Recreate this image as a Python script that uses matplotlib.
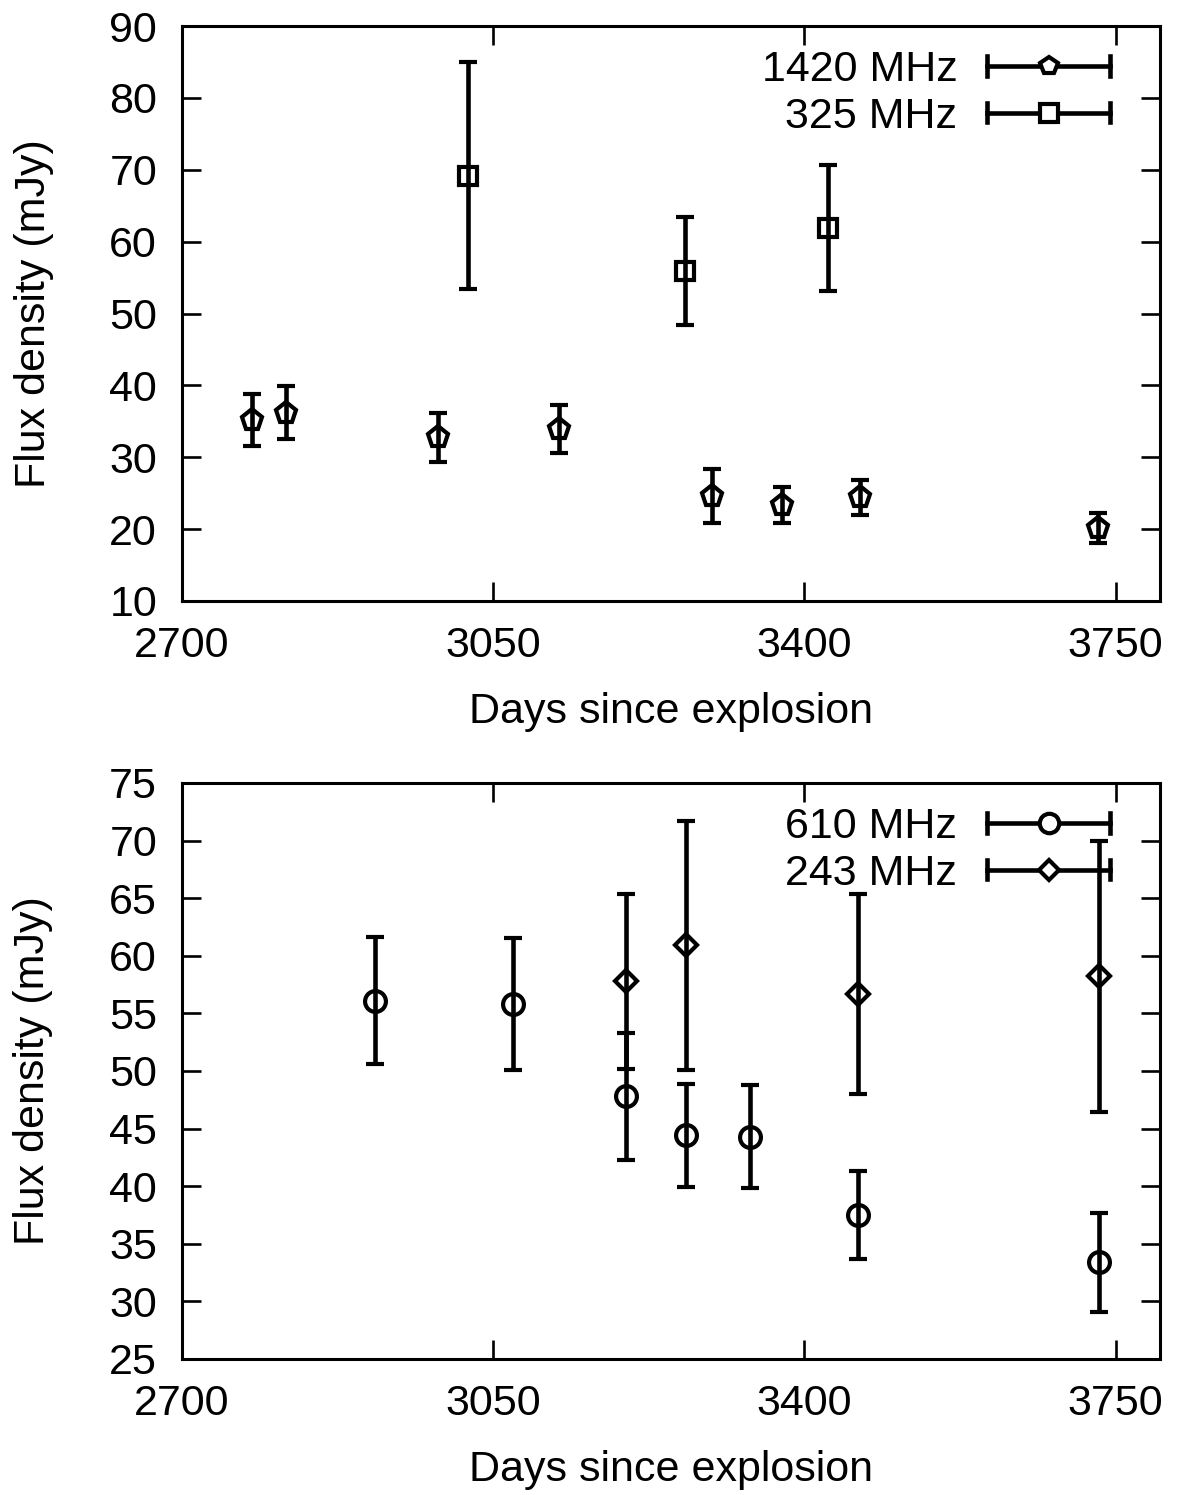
import matplotlib
matplotlib.use("Agg")
import matplotlib.pyplot as plt
from matplotlib.legend_handler import HandlerBase
from matplotlib.lines import Line2D

# 1420 / 325 MHz (top panel)
days_1420 = [2779, 2817, 2988, 3124, 3296, 3375, 3463, 3730]
flux_1420 = [35.2, 36.2, 32.8, 33.9, 24.6, 23.4, 24.4, 20.2]
err_1420 = [3.6, 3.7, 3.4, 3.3, 3.7, 2.5, 2.4, 2.1]

days_325 = [3022, 3266, 3427]
flux_325 = [69.2, 55.9, 61.9]
err_325 = [15.8, 7.5, 8.8]

# 610 / 243 MHz (bottom panel)
days_610 = [2917, 3072, 3199, 3267, 3339, 3460, 3731]
flux_610 = [56.1, 55.8, 47.8, 44.4, 44.3, 37.5, 33.4]
err_610 = [5.5, 5.7, 5.5, 4.5, 4.5, 3.8, 4.3]

days_243 = [3199, 3267, 3460, 3731]
flux_243 = [57.8, 60.9, 56.7, 58.2]
err_243 = [7.6, 10.8, 8.7, 11.8]

x_ticks = [2700, 3050, 3400, 3750]
top_yticks = list(range(10, 91, 10))
bottom_yticks = list(range(25, 76, 5))

FS = 31
LW = 3.3
MEW = 3.0
plt.rcParams['font.family'] = ['Liberation Sans', 'DejaVu Sans']
plt.rcParams['font.size'] = FS


class GnuplotErrHandler(HandlerBase):
    """legend sample like gnuplot: horizontal bar with end caps and the marker in the middle"""

    def __init__(self, marker, ms):
        super().__init__()
        self.marker = marker
        self.ms = ms

    def create_artists(self, legend, orig_handle, xdescent, ydescent,
                       width, height, fontsize, trans):
        y = height / 2 - ydescent
        x0, x1 = -xdescent, width - xdescent
        cap = 7.0
        arts = [
            Line2D([x0, x1], [y, y], color='k', lw=LW),
            Line2D([x0, x0], [y - cap, y + cap], color='k', lw=LW),
            Line2D([x1, x1], [y - cap, y + cap], color='k', lw=LW),
            Line2D([(x0 + x1) / 2], [y], marker=self.marker, ms=self.ms,
                   mfc='white', mec='k', mew=MEW, ls='none'),
        ]
        for a in arts:
            a.set_transform(trans)
        return arts


def plot_series(ax, x, y, err, marker, ms, label):
    return ax.errorbar(x, y, yerr=err, fmt=marker, ms=ms, mfc='none', mec='k',
                       mew=MEW, ecolor='k', elinewidth=LW, capsize=6.8,
                       capthick=LW, label=label)


def style_axes(ax, yticks):
    ax.set_xlim(2700, 3800)
    ax.set_ylim(yticks[0], yticks[-1])
    ax.set_xticks(x_ticks)
    ax.set_yticks(yticks)
    ax.tick_params(direction='in', length=13.5, width=1.9, top=True, right=True,
                   pad=18, labelsize=FS)
    for sp in ax.spines.values():
        sp.set_linewidth(2.2)
    ax.set_xlabel('Days since explosion', fontsize=FS, labelpad=19)
    ax.set_ylabel('Flux density (mJy)', fontsize=FS, labelpad=40)


def add_legend(ax, handles, labels, markers):
    hmap = {h: GnuplotErrHandler(m, s) for h, (m, s) in zip(handles, markers)}
    ax.legend(handles, labels, loc='upper right',
              bbox_to_anchor=(0.949, 0.958), frameon=False, markerfirst=False,
              handlelength=2.85, handletextpad=0.7, labelspacing=0.15,
              borderpad=0, borderaxespad=0, fontsize=FS, handler_map=hmap)


fig = plt.figure(figsize=(11.79, 14.95), dpi=100)
ax1 = fig.add_axes([0.1544, 0.598, 0.8295, 0.3846])
ax2 = fig.add_axes([0.1544, 0.091, 0.8295, 0.3853])

h1 = plot_series(ax1, days_1420, flux_1420, err_1420, 'p', 15.5, '1420 MHz')
h2 = plot_series(ax1, days_325, flux_325, err_325, 's', 13.5, '325 MHz')
style_axes(ax1, top_yticks)
add_legend(ax1, [h1, h2], ['1420 MHz', '325 MHz'], [('p', 13), ('s', 12.5)])

h3 = plot_series(ax2, days_610, flux_610, err_610, 'o', 15, '610 MHz')
h4 = plot_series(ax2, days_243, flux_243, err_243, 'D', 11.5, '243 MHz')
style_axes(ax2, bottom_yticks)
add_legend(ax2, [h3, h4], ['610 MHz', '243 MHz'], [('o', 14), ('D', 10.5)])

fig.savefig('out.png', dpi=100)
